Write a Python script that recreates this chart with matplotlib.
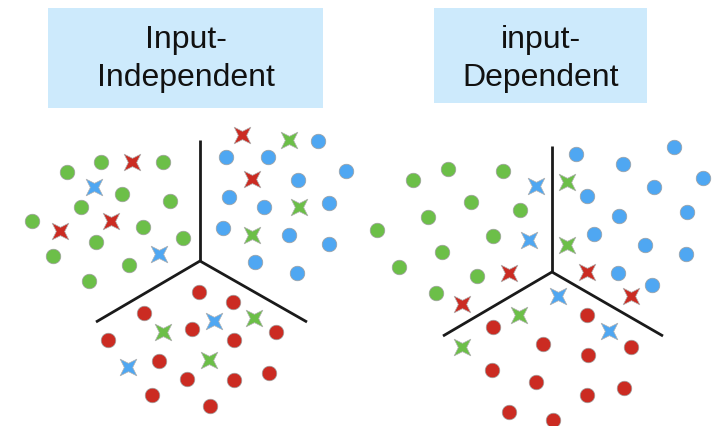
import matplotlib
matplotlib.use("Agg")
import matplotlib.pyplot as plt
from matplotlib.path import Path
from matplotlib.patches import Rectangle
import numpy as np

# Colours of the three classes
GREEN = "#6cbf48"
BLUE = "#4fa7f2"
RED = "#cb2b22"

# ---- Panel 1: input-independent boundaries ----
left_titles = ["Input-", "Independent"]
left_boundary_x = [200, 200, 96, 200, 307]
left_boundary_y = [141, 262, 323, 262, 323]

left_green_dots = [(66.7, 172.7), (101, 163.3), (163.3, 163.3), (122.3, 195), (170, 202.3),
                   (81, 208.3), (32.3, 221.7), (143.3, 227.7), (183.3, 239.3), (95.7, 243.3),
                   (53.3, 256.7), (129, 265.7), (89, 282.3)]
left_blue_dots = [(225.7, 158.3), (267.7, 158.3), (317.7, 142.3), (345.7, 171.7), (298.3, 180.7),
                  (229, 197.7), (264.3, 207.7), (329, 204.3), (222.7, 229), (289, 235.7),
                  (329, 245), (255, 262.7), (296.7, 274)]
left_red_dots = [(199, 292.7), (233.3, 303.3), (144, 314.3), (191.7, 330), (275.7, 333.3),
                 (108.3, 340.7), (234.3, 341), (159, 361.7), (187.3, 380), (234.3, 381),
                 (269.3, 374), (152.3, 396), (210, 406.7)]
left_green_stars = [(289.3, 140.7), (299, 207.7), (252.3, 235.7), (163.3, 333.3), (254, 319),
                    (209.3, 360.7)]
left_blue_stars = [(94.3, 187.7), (159, 255), (214.3, 321.7), (127.7, 367.7)]
left_red_stars = [(132.3, 163.3), (111, 221.7), (60, 231.7), (242.3, 136), (252.3, 180)]

# ---- Panel 2: input-dependent boundaries ----
right_titles = ["input-", "Dependent"]
right_boundary_x = [552, 552, 443, 552, 663]
right_boundary_y = [147, 273, 337, 273, 337]

right_green_dots = [(412.7, 180.7), (448.3, 170), (502.7, 172.3), (470.7, 203.3), (520, 211),
                    (427.7, 217.7), (376.7, 231), (492.7, 237.3), (441.7, 253.3), (399, 267.7),
                    (477.3, 276.7), (436, 294)]
right_blue_dots = [(575.7, 155), (622.7, 165), (674, 148.3), (703.3, 179), (654, 188.3),
                   (586.7, 197.3), (619, 216.7), (686.7, 213.3), (594.3, 235), (645, 245.7),
                   (686, 255), (617.7, 274), (652.3, 285.7)]
right_red_dots = [(586.7, 316), (493.3, 327.7), (543.3, 345), (631, 347.7), (587.7, 355.7),
                  (491.7, 370.7), (535.7, 382.7), (624, 389), (586.7, 396), (509, 412.7),
                  (552.7, 420.7)]
right_green_stars = [(566.7, 182.7), (566.7, 245.7), (519.3, 316), (461.7, 347.7)]
right_blue_stars = [(535.7, 187.3), (529.3, 241), (558.3, 296.7), (609, 332.3)]
right_red_stars = [(509, 274), (461.7, 305), (586.7, 273.3), (630.7, 296.7)]

# Four-pointed star with concave sides, oriented like an "x"
r_in = 0.5
angles = np.deg2rad(np.arange(8) * 45.0 + 45.0)
radii = np.where(np.arange(8) % 2 == 0, np.sqrt(2.0), r_in)
star_verts = np.column_stack([radii * np.cos(angles), radii * np.sin(angles)])
star_verts = np.vstack([star_verts, star_verts[:1]])
star_codes = [Path.MOVETO] + [Path.LINETO] * 7 + [Path.CLOSEPOLY]
STAR = Path(star_verts, star_codes)

fig = plt.figure(figsize=(7.24, 4.27), dpi=100)
ax = fig.add_axes([0, 0, 1, 1])
ax.set_xlim(0, 724)
ax.set_ylim(427, 0)
ax.axis("off")

# Title boxes
for (x0, x1, y0, y1), lines, cx in [((48, 323, 9, 109), left_titles, 186),
                                     ((434, 647, 9, 104), right_titles, 541)]:
    ax.add_patch(Rectangle((x0, y0), x1 - x0, y1 - y0, facecolor="#cdeafc",
                           edgecolor="none", zorder=1))
    for text, ty in zip(lines, [40, 78]):
        ax.text(cx, ty, text, ha="center", va="center", fontsize=23,
                family="Liberation Sans", color="#111111", zorder=2)


def draw_points(pts, color, marker, size, edge):
    xs = [p[0] for p in pts]
    ys = [p[1] for p in pts]
    ax.plot(xs, ys, linestyle="none", marker=marker, markersize=size,
            markerfacecolor=color, markeredgecolor=edge,
            markeredgewidth=0.5, zorder=4)


for bx, by in [(left_boundary_x, left_boundary_y), (right_boundary_x, right_boundary_y)]:
    ax.plot(bx[:2], by[:2], color="#1a1a1a", lw=2.0, solid_capstyle="butt", zorder=3)
    ax.plot(bx[2:], by[2:], color="#1a1a1a", lw=2.0, solid_joinstyle="miter",
            solid_capstyle="butt", zorder=3)

for pts, col in [(left_green_dots, GREEN), (left_blue_dots, BLUE), (left_red_dots, RED),
                 (right_green_dots, GREEN), (right_blue_dots, BLUE), (right_red_dots, RED)]:
    draw_points(pts, col, "o", 10.5, "#a0a0a0")

for pts, col in [(left_green_stars, GREEN), (left_blue_stars, BLUE), (left_red_stars, RED),
                 (right_green_stars, GREEN), (right_blue_stars, BLUE), (right_red_stars, RED)]:
    draw_points(pts, col, STAR, 12, "#b0b0b0")

fig.savefig("out.png", dpi=100, facecolor="white")
